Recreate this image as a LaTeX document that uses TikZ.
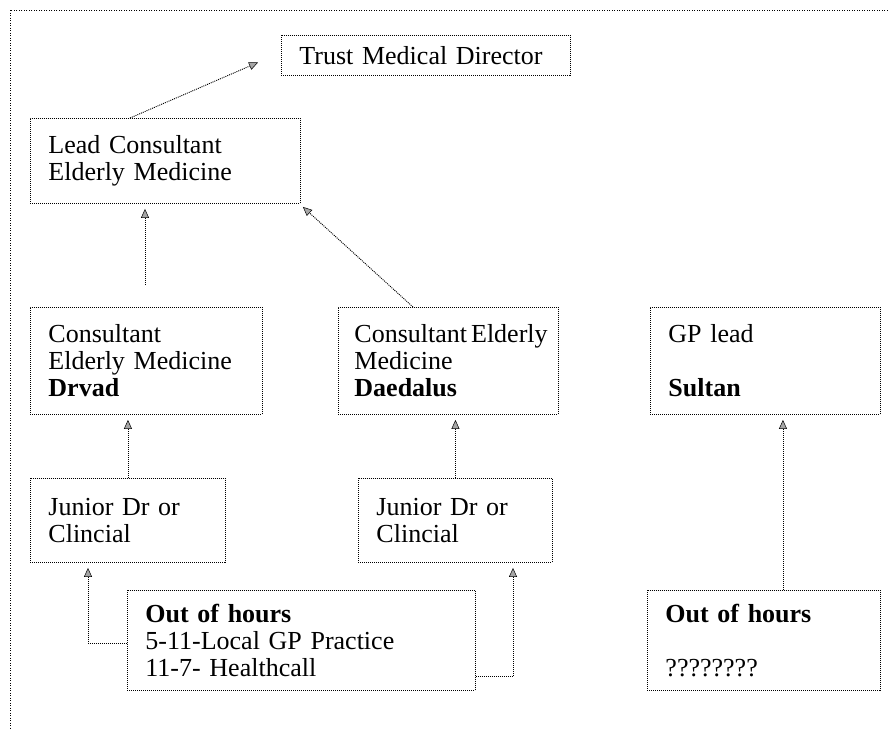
\documentclass[tikz,border=0pt]{standalone}
\usepackage{fontspec}
\setmainfont{Liberation Serif}
\usetikzlibrary{arrows.meta,positioning}
\tikzset{
  post/.style={rectangle, draw=black, line width=0.9pt, dash pattern=on 1pt off 1pt, anchor=north west, align=left, inner xsep=18pt, inner ysep=0pt, font=\fontsize{26}{27}\selectfont},
  link/.style={draw, line width=0.9pt, dash pattern=on 1pt off 1pt, -{Triangle[length=9pt,width=8pt,fill=gray!70,line width=0.5pt]}},
  frame/.style={draw, line width=0.9pt, dash pattern=on 1pt off 1.5pt},
}
\begin{document}
\begin{tikzpicture}[x=1pt, y=-1pt]
   \useasboundingbox (0,0) rectangle (888,728);
   \draw[frame] (10,10) rectangle (900,740);

   \node[post, text width=253pt, minimum height=40pt] (tmd) at (281,35) {Trust Medical Director};
   \node[post, text width=234pt, minimum height=85pt] (lead) at (30,118) {Lead Consultant\\Elderly Medicine};
   \node[post, text width=196pt, minimum height=107pt] (drvad) at (30,307) {Consultant\\Elderly Medicine\\\textbf{Drvad}};
   \node[post, inner xsep=16pt, text width=188pt, minimum height=107pt] (dae) at (338,307) {\mbox{Consultant\hspace{4pt}Elderly}\\Medicine\\\textbf{Daedalus}};
   \node[post, text width=194pt, minimum height=107pt] (gp) at (650,307) {GP lead\\\mbox{}\\\textbf{Sultan}};
   \node[post, text width=159pt, minimum height=84pt] (jr1) at (30,478) {Junior Dr or\\Clincial};
   \node[post, text width=158pt, minimum height=84pt] (jr2) at (358,478) {Junior Dr or\\Clincial};
   \node[post, text width=312pt, minimum height=100pt] (ooh1) at (127,590) {\textbf{Out of hours}\\5-11-Local GP Practice\\11-7- Healthcall};
   \node[post, text width=197pt, minimum height=100pt] (ooh2) at (647,590) {\textbf{Out of hours}\\\mbox{}\\????????};

   % reporting lines
   \draw[link] ([xshift=100pt]lead.north west) -- ([xshift=-23pt, yshift=-7pt]tmd.west);
   \draw[link] ([xshift=115pt, yshift=22pt]drvad.north west) -- ([xshift=115pt, yshift=-5pt]lead.south west);
   \draw[link] ([xshift=75pt]dae.north west) -- ([xshift=2pt, yshift=-3pt]lead.south east);
   \draw[link, shorten >=5pt] (jr1.north) -- (jr1.north |- drvad.south);
   \draw[link, shorten >=5pt] (jr2.north) -- (jr2.north |- dae.south);
   \draw[link, shorten >=5pt] ([xshift=19pt]ooh2.north) -- ([xshift=19pt]ooh2.north |- gp.south);
   \draw[link, shorten >=5pt] ([yshift=-3pt]ooh1.west) -| ([xshift=58pt]jr1.south west);
   \draw[link, shorten >=5pt] ([yshift=-36pt]ooh1.east) -| ([xshift=155pt]jr2.south west);
\end{tikzpicture}
\end{document}
